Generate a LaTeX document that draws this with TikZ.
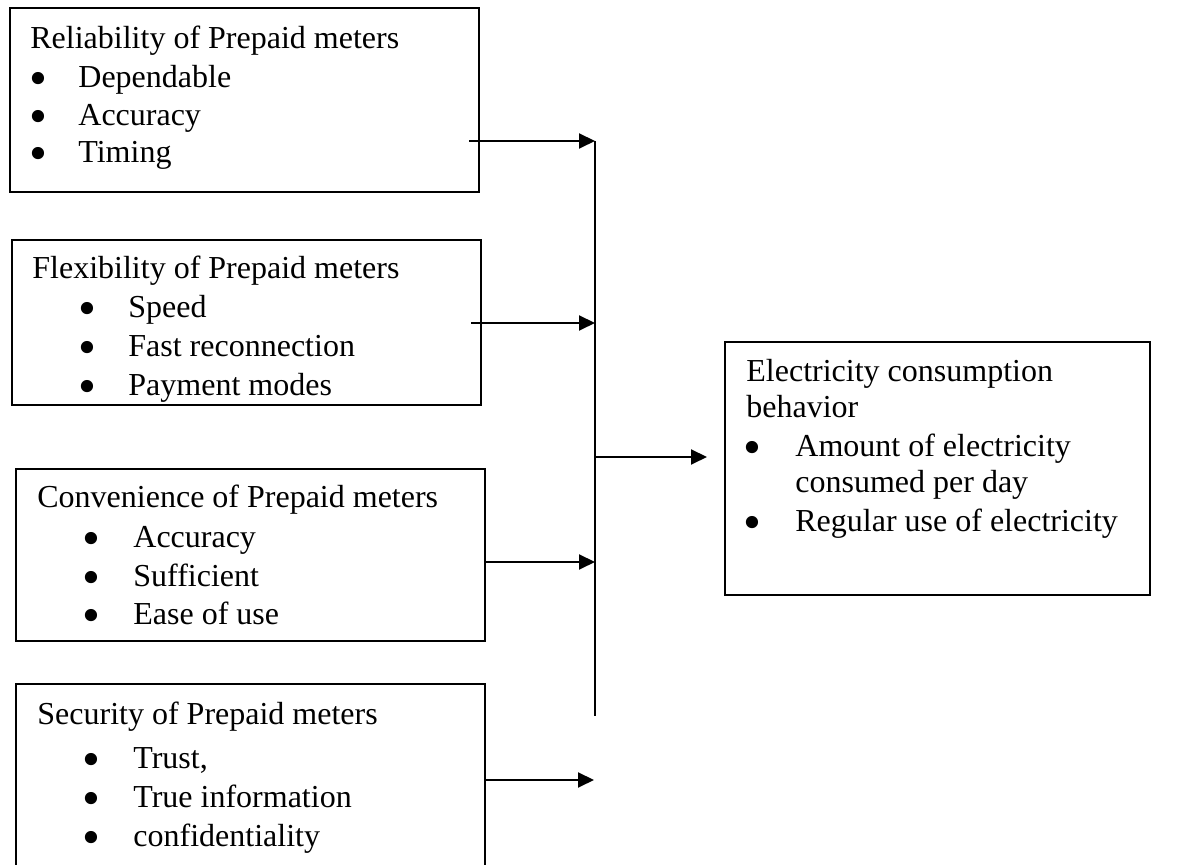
\documentclass[tikz,border=0pt]{standalone}
\usepackage{fontspec}
\setmainfont{Liberation Serif}
\usepackage{graphicx}
\usetikzlibrary{arrows.meta}
\newcommand{\bigbul}{\raisebox{-0.24em}[0.3em][0pt]{\scalebox{1.6}{\textbullet}}}
\begin{document}
\begin{tikzpicture}[x=0.5pt,y=-0.5pt,
  box/.style={draw, line width=1pt, rectangle, inner sep=0pt},
  txt/.style={anchor=base west, inner sep=0pt, font=\fontsize{16}{19}\selectfont},
  bul/.style={anchor=base, inner sep=0pt, font=\fontsize{16}{19}\selectfont},
  arr/.style={line width=1pt, -{Triangle[length=8pt,width=7.5pt]}},
  ln/.style={line width=1pt}]
\useasboundingbox (0,0) rectangle (1180,865);
\clip (0,0) rectangle (1180,865);
% boxes
\node[box, minimum width=234.5pt, minimum height=92pt] (b1) at (244.5,100) {};
\node[box, minimum width=234.5pt, minimum height=82.5pt] (b2) at (246.5,322.5) {};
\node[box, minimum width=234.5pt, minimum height=86pt] (b3) at (250.5,555) {};
\node[box, minimum width=234.5pt, minimum height=98pt] (b4) at (250.5,782) {};
\node[box, minimum width=212.5pt, minimum height=126.5pt] (out) at (937.5,468.5) {};
% box 1 text
\node[txt] (t1) at (30,49) {Reliability of Prepaid meters};
\node[bul] (t1b1) at (38,88) {\bigbul};
\node[bul] (t1b2) at (38,126) {\bigbul};
\node[bul] (t1b3) at (38,163) {\bigbul};
\node[txt] (t1i1) at (78,88) {Dependable};
\node[txt] (t1i2) at (78,126) {Accuracy};
\node[txt] (t1i3) at (78,163) {Timing};
% box 2 text
\node[txt] (t2) at (32,279) {Flexibility of Prepaid meters};
\node[bul] (t2b1) at (87,318) {\bigbul};
\node[bul] (t2b2) at (87,357) {\bigbul};
\node[bul] (t2b3) at (87,396) {\bigbul};
\node[txt] (t2i1) at (128,318) {Speed};
\node[txt] (t2i2) at (128,357) {Fast reconnection};
\node[txt] (t2i3) at (128,396) {Payment modes};
% box 3 text
\node[txt] (t3) at (37,508) {Convenience of Prepaid meters};
\node[bul] (t3b1) at (91,548) {\bigbul};
\node[bul] (t3b2) at (91,587) {\bigbul};
\node[bul] (t3b3) at (91,625) {\bigbul};
\node[txt] (t3i1) at (133,548) {Accuracy};
\node[txt] (t3i2) at (133,587) {Sufficient};
\node[txt] (t3i3) at (133,625) {Ease of use};
% box 4 text
\node[txt] (t4) at (37,725) {Security of Prepaid meters};
\node[bul] (t4b1) at (91,769) {\bigbul};
\node[bul] (t4b2) at (91,808) {\bigbul};
\node[bul] (t4b3) at (91,847) {\bigbul};
\node[txt] (t4i1) at (133,769) {Trust,};
\node[txt] (t4i2) at (133,808) {True information};
\node[txt] (t4i3) at (133,847) {confidentiality};
% output text
\node[txt] (to1) at (746,382) {Electricity consumption};
\node[txt] (to2) at (746,418) {behavior};
\node[bul] (tob1) at (752,457) {\bigbul};
\node[txt] (toi1) at (795,457) {Amount of electricity};
\node[txt] (toi1b) at (795,493) {consumed per day};
\node[bul] (tob2) at (752,532) {\bigbul};
\node[txt] (toi2) at (795,532) {Regular use of electricity};
% connectors
\coordinate (top) at (595,141);
\coordinate (bot) at (595,716);
\coordinate (s1) at (469,141);
\coordinate (s2) at (471,323);
\coordinate (s3) at (485,562);
\coordinate (s4) at (485,780);
\coordinate (e4) at (594,780);
\coordinate (so) at (595,457);
\coordinate (eo) at (707,457);
\draw[ln] (top) -- (bot);
\draw[arr] (s1) -- (top);
\draw[arr] (s2) -- (s2 -| top);
\draw[arr] (s3) -- (s3 -| top);
\draw[arr] (s4) -- (e4);
\draw[arr] (so) -- (eo);
\end{tikzpicture}
\end{document}
